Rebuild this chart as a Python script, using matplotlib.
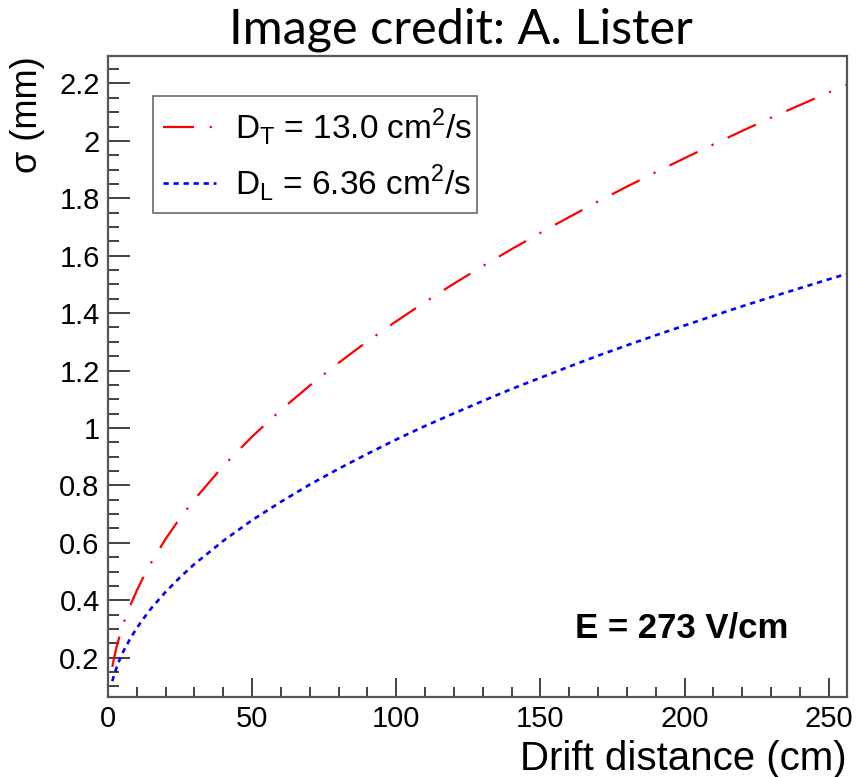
import matplotlib
matplotlib.use("Agg")
import matplotlib.pyplot as plt
from matplotlib.ticker import MultipleLocator, FormatStrFormatter

# drift distance (cm) and diffusion spread sigma (mm)
drift_cm = [1.5, 2, 3, 4, 5, 6, 8, 10, 12, 15, 20, 25, 30, 40, 50, 60, 70, 80, 90,
            100, 110, 120, 130, 140, 150, 160, 170, 180, 190, 200, 210, 220, 230,
            240, 250, 256]
sigma_T = [0.168, 0.194, 0.238, 0.274, 0.307, 0.336, 0.388, 0.434, 0.475, 0.531,
           0.614, 0.686, 0.751, 0.868, 0.970, 1.063, 1.148, 1.227, 1.302, 1.372,
           1.439, 1.503, 1.564, 1.623, 1.680, 1.735, 1.789, 1.841, 1.891, 1.940,
           1.988, 2.035, 2.081, 2.125, 2.169, 2.195]
sigma_L = [0.118, 0.136, 0.166, 0.192, 0.215, 0.235, 0.271, 0.303, 0.332, 0.372,
           0.429, 0.480, 0.526, 0.607, 0.679, 0.743, 0.803, 0.858, 0.910, 0.960,
           1.007, 1.051, 1.094, 1.136, 1.175, 1.214, 1.252, 1.288, 1.323, 1.357,
           1.391, 1.424, 1.456, 1.487, 1.518, 1.536]

label_T = r"D$_\mathregular{T}$ = 13.0 cm$^\mathregular{2}$/s"
label_L = r"D$_\mathregular{L}$ = 6.36 cm$^\mathregular{2}$/s"

plt.rcParams["font.family"] = ["Liberation Sans", "DejaVu Sans"]
plt.rcParams["mathtext.fontset"] = "custom"
plt.rcParams["mathtext.rm"] = "Liberation Sans"

fig = plt.figure(figsize=(8.68, 7.77), dpi=100)
ax = fig.add_axes([0.1244, 0.1030, 0.8514, 0.8243])

ax.plot(drift_cm, sigma_T, color="#ff0000", lw=1.6,
        linestyle=(0, (14, 7, 1, 7)), label=label_T)
ax.plot(drift_cm, sigma_L, color="#0000ff", lw=1.9,
        linestyle=(0, (2, 1.8)), label=label_L)

ax.set_xlim(0, 256.3)
ax.set_ylim(0.063, 2.294)

ax.xaxis.set_major_locator(MultipleLocator(50))
ax.xaxis.set_minor_locator(MultipleLocator(10))
ax.yaxis.set_major_locator(MultipleLocator(0.2))
ax.yaxis.set_minor_locator(MultipleLocator(0.05))
ax.yaxis.set_major_formatter(FormatStrFormatter("%g"))
ax.xaxis.set_major_formatter(FormatStrFormatter("%g"))

ax.tick_params(which="both", direction="in", top=False, right=False,
               width=1.2, color="#222222", labelsize=21, pad=6)
ax.tick_params(axis="x", which="major", length=14)
ax.tick_params(axis="x", which="minor", length=7)
ax.tick_params(axis="y", which="major", length=16)
ax.tick_params(axis="y", which="minor", length=8)

for sp in ax.spines.values():
    sp.set_linewidth(1.6)
    sp.set_color("#555555")

ax.set_xlabel("Drift distance (cm)", fontsize=29, loc="right", labelpad=5)
ax.set_ylabel("σ (mm)", fontsize=26, loc="top", labelpad=10)

leg = ax.legend(loc="upper left", bbox_to_anchor=(0.0609, 0.7494, 0.4384, 0.1889),
                mode="expand", borderaxespad=0, fontsize=24, frameon=True,
                fancybox=False, handlelength=1.6, handletextpad=0.55,
                labelspacing=0.45, borderpad=0.3)
leg.get_frame().set_edgecolor("#444444")
leg.get_frame().set_linewidth(1.2)

ax.text(0.632, 0.108, "E = 273 V/cm", transform=ax.transAxes, fontsize=25,
        fontweight="bold", ha="left", va="center")

fig.text(0.531, 0.962, "Image credit: A. Lister", fontsize=35, family="Lato",
         ha="center", va="center")

fig.savefig("out.png", dpi=100)
